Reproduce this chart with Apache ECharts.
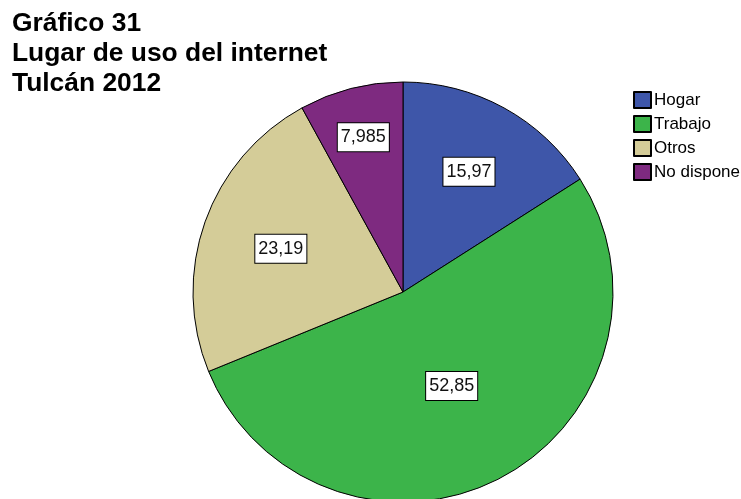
<!DOCTYPE html>
<html>
<head>
<meta charset="utf-8">
<script src="https://cdn.jsdelivr.net/npm/echarts@6/dist/echarts.min.js"></script>
<style>
  html, body { margin: 0; padding: 0; background: #fff; }
  #chart { width: 741px; height: 499px; }
</style>
</head>
<body>
<div id="chart"></div>
<script>
// Lugar de uso del internet, Tulcán 2012 (porcentajes)
const categories = ['Hogar', 'Trabajo', 'Otros', 'No dispone'];
const values = [15.97, 52.85, 23.19, 7.985];
const valueLabels = ['15,97', '52,85', '23,19', '7,985'];
const titleLines = ['Gráfico 31', 'Lugar de uso del internet', 'Tulcán 2012'];

// Slice colours and how far out (as a share of the radius) each value box sits
const colors = ['#3e56a9', '#3cb44a', '#d4cc98', '#7e2a80'];
const labelRadiusShare = [0.635, 0.49, 0.6, 0.74];

const pieCenter = [403, 292];
const pieRadius = 210;

const chart = echarts.init(document.getElementById('chart'), null, { renderer: 'canvas' });

chart.setOption({
  animation: false,
  backgroundColor: '#ffffff',
  title: {
    text: titleLines.join('\n'),
    left: 7,
    top: 4,
    textStyle: {
      fontFamily: 'Arial, "Liberation Sans", sans-serif',
      fontWeight: 'bold',
      fontSize: 26.4,
      lineHeight: 30,
      color: '#000'
    }
  },
  legend: {
    orient: 'vertical',
    left: 628,
    top: 86,
    itemWidth: 17,
    itemHeight: 16,
    itemGap: 6,
    icon: 'rect',
    data: categories,
    textStyle: {
      fontFamily: 'Arial, "Liberation Sans", sans-serif',
      fontSize: 17,
      color: '#000',
      padding: [0, 0, 0, -2]
    }
  },
  series: [{
    type: 'pie',
    center: pieCenter,
    radius: pieRadius,
    startAngle: 90,
    clockwise: true,
    silent: true,
    data: categories.map((name, i) => ({
      name,
      value: values[i],
      itemStyle: { color: colors[i] }
    })),
    itemStyle: { borderColor: '#000', borderWidth: 1 },
    label: {
      show: true,
      position: 'inside',
      formatter: p => valueLabels[p.dataIndex],
      fontFamily: 'Arial, "Liberation Sans", sans-serif',
      fontSize: 18,
      lineHeight: 20,
      color: '#111',
      backgroundColor: '#fff',
      borderColor: '#000',
      borderWidth: 1,
      padding: [4, 3, 4, 3]
    },
    labelLine: { show: false },
    labelLayout: function (p) {
      const r = p.labelRect;
      const cx = r.x + r.width / 2;
      const cy = r.y + r.height / 2;
      const k = labelRadiusShare[p.dataIndex] / 0.5;
      return {
        x: pieCenter[0] + (cx - pieCenter[0]) * k,
        y: pieCenter[1] + (cy - pieCenter[1]) * k,
        align: 'center',
        verticalAlign: 'middle'
      };
    }
  }]
});
</script>
</body>
</html>
